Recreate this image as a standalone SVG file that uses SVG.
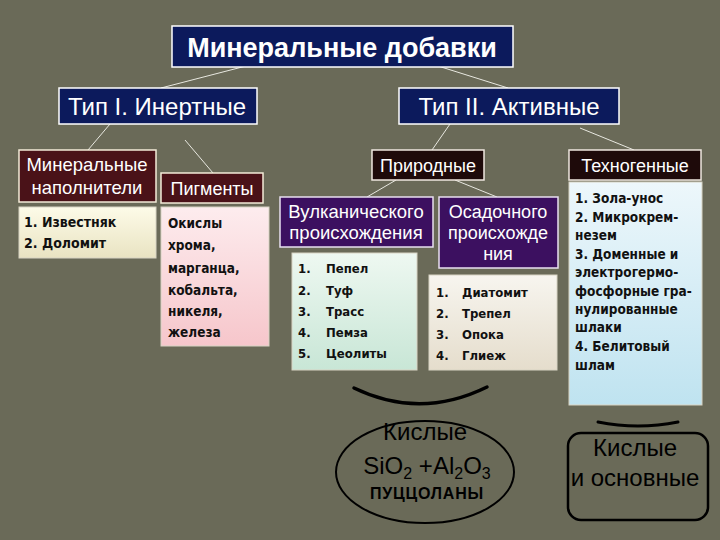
<svg xmlns="http://www.w3.org/2000/svg" width="720" height="540" viewBox="0 0 720 540">
<defs>
<linearGradient id="gY" x1="0" y1="0" x2="0" y2="1"><stop offset="0" stop-color="#fdfbe8"/><stop offset="1" stop-color="#e9e3c2"/></linearGradient>
<linearGradient id="gP" x1="0" y1="0" x2="0" y2="1"><stop offset="0" stop-color="#fdecee"/><stop offset="1" stop-color="#f6c6cb"/></linearGradient>
<linearGradient id="gG" x1="0" y1="0" x2="0" y2="1"><stop offset="0" stop-color="#eef8f1"/><stop offset="1" stop-color="#c8e6d6"/></linearGradient>
<linearGradient id="gB" x1="0" y1="0" x2="0" y2="1"><stop offset="0" stop-color="#f7f5ef"/><stop offset="1" stop-color="#e5ddcc"/></linearGradient>
<linearGradient id="gC" x1="0" y1="0" x2="0" y2="1"><stop offset="0" stop-color="#edf7fb"/><stop offset="1" stop-color="#bfe3f0"/></linearGradient>
<style>
.navy{fill:#0c1a5c;stroke:#ffffff;stroke-width:1.5}
.maroon{fill:#4a1218;stroke:#f4ecd8;stroke-width:1.5}
.dark{fill:#1e0a0a;stroke:#f0e8e0;stroke-width:1.5}
.purple{fill:#3c1060;stroke:#e8e0f0;stroke-width:1.5}
.list{stroke:#d8d4c4;stroke-width:1}
.hw{font-family:"Liberation Sans",Arial,sans-serif;fill:#ffffff;text-anchor:middle}
.li{font-family:"DejaVu Sans Condensed","Liberation Sans",sans-serif;fill:#111111;font-weight:bold}
.bk{font-family:"Liberation Sans",Arial,sans-serif;fill:#000000;text-anchor:middle}
.conn line{stroke:#e8e8e0;stroke-width:1}
</style>
</defs>
<rect width="720" height="540" fill="#6a6a58"/>
<g id="connectors" class="conn">
<line x1="246" y1="66" x2="161" y2="88"/>
<line x1="438" y1="66" x2="508" y2="88"/>
<line x1="110" y1="124" x2="88" y2="150"/>
<line x1="185" y1="140" x2="213" y2="173"/>
<line x1="450" y1="124" x2="432" y2="150"/>
<line x1="580" y1="128" x2="634" y2="150"/>
<line x1="396" y1="180" x2="367" y2="197"/>
<line x1="455" y1="180" x2="497" y2="197"/>
</g>
<g id="title"><rect x="172" y="26" width="341" height="41" class="navy"/><text x="342" y="57" class="hw" font-size="27" font-weight="bold">Минеральные добавки</text></g>
<g id="type1"><rect x="59" y="88" width="198" height="36" class="navy"/><text x="157" y="115" class="hw" font-size="24">Тип I. Инертные</text></g>
<g id="type2"><rect x="399" y="88" width="220" height="36" class="navy"/><text x="509" y="115" class="hw" font-size="24">Тип II. Активные</text></g>
<g id="fillers"><rect x="19" y="150" width="137" height="52" class="maroon"/><text x="87" y="171" class="hw" font-size="18.5">Минеральные</text><text x="87" y="194" class="hw" font-size="18.5">наполнители</text></g>
<g id="pigments"><rect x="161" y="173" width="102" height="30" class="maroon"/><text x="212" y="195" class="hw" font-size="18">Пигменты</text></g>
<g id="fillers-list"><rect x="19" y="207" width="137" height="51" fill="url(#gY)" class="list"/><text class="li" font-size="14"><tspan x="24" y="227">1. Известняк</tspan><tspan x="24" y="248">2. Доломит</tspan></text></g>
<g id="pigments-list"><rect x="161" y="207" width="108" height="139" fill="url(#gP)" class="list"/><text class="li" font-size="13.5"><tspan x="168" y="228">Окислы</tspan><tspan x="168" y="250">хрома,</tspan><tspan x="168" y="273">марганца,</tspan><tspan x="168" y="295">кобальта,</tspan><tspan x="168" y="316">никеля,</tspan><tspan x="168" y="337">железа</tspan></text></g>
<g id="natural"><rect x="372" y="150" width="112" height="30" class="dark"/><text x="428" y="172" class="hw" font-size="18">Природные</text></g>
<g id="technogenic"><rect x="569" y="150" width="132" height="30" class="dark"/><text x="635" y="172" class="hw" font-size="18">Техногенные</text></g>
<g id="volcanic"><rect x="280" y="197" width="153" height="50" class="purple"/><text x="356" y="218" class="hw" font-size="18.5">Вулканического</text><text x="356" y="239" class="hw" font-size="18.5">происхождения</text></g>
<g id="sedimentary"><rect x="439" y="197" width="119" height="71" class="purple"/><text x="498" y="218" class="hw" font-size="18">Осадочного</text><text x="498" y="239" class="hw" font-size="18">происхожде</text><text x="498" y="260" class="hw" font-size="18">ния</text></g>
<g id="volcanic-list"><rect x="292" y="253" width="125" height="117" fill="url(#gG)" class="list"/><text class="li" font-size="13"><tspan x="298" y="273">1.</tspan><tspan x="326" y="273">Пепел</tspan><tspan x="298" y="295">2.</tspan><tspan x="326" y="295">Туф</tspan><tspan x="298" y="316">3.</tspan><tspan x="326" y="316">Трасс</tspan><tspan x="298" y="337">4.</tspan><tspan x="326" y="337">Пемза</tspan><tspan x="298" y="358">5.</tspan><tspan x="326" y="358">Цеолиты</tspan></text></g>
<g id="sedimentary-list"><rect x="429" y="275" width="128" height="95" fill="url(#gB)" class="list"/><text class="li" font-size="13"><tspan x="436" y="297">1.</tspan><tspan x="462" y="297">Диатомит</tspan><tspan x="436" y="318">2.</tspan><tspan x="462" y="318">Трепел</tspan><tspan x="436" y="339">3.</tspan><tspan x="462" y="339">Опока</tspan><tspan x="436" y="360">4.</tspan><tspan x="462" y="360">Глиеж</tspan></text></g>
<g id="technogenic-list"><rect x="569" y="182" width="133" height="223" fill="url(#gC)" class="list"/><text class="li" font-size="13.5"><tspan x="575" y="203">1. Зола-унос</tspan><tspan x="575" y="222">2. Микрокрем-</tspan><tspan x="575" y="240">незем</tspan><tspan x="575" y="259">3. Доменные и</tspan><tspan x="575" y="277">электрогермо-</tspan><tspan x="575" y="296">фосфорные гра-</tspan><tspan x="575" y="314">нулированные</tspan><tspan x="575" y="332">шлаки</tspan><tspan x="575" y="351">4. Белитовый</tspan><tspan x="575" y="370">шлам</tspan></text></g>
<g id="acidic">
<path d="M354 388 Q420 420 487 387" fill="none" stroke="#000" stroke-width="3.5" stroke-linecap="round"/>
<ellipse cx="425" cy="472" rx="89" ry="51" fill="none" stroke="#000" stroke-width="2"/>
<text x="425" y="440" class="bk" font-size="24">Кислые</text>
<text x="427" y="474" class="bk" font-size="24">SiO<tspan font-size="16" dy="5">2</tspan><tspan dy="-5"> +Al</tspan><tspan font-size="16" dy="5">2</tspan><tspan dy="-5">O</tspan><tspan font-size="16" dy="5">3</tspan></text>
<text x="427" y="499" class="bk" font-size="16" font-weight="bold" letter-spacing="0.8">ПУЦЦОЛАНЫ</text>
</g>
<g id="acidic-basic">
<path d="M598 422 Q638 430 678 422" fill="none" stroke="#000" stroke-width="3" stroke-linecap="round"/>
<rect x="568" y="433" width="140" height="87" rx="13" fill="none" stroke="#000" stroke-width="2.5"/>
<text x="635" y="456" class="bk" font-size="24">Кислые</text>
<text x="635" y="486" class="bk" font-size="24">и основные</text>
</g>
</svg>
